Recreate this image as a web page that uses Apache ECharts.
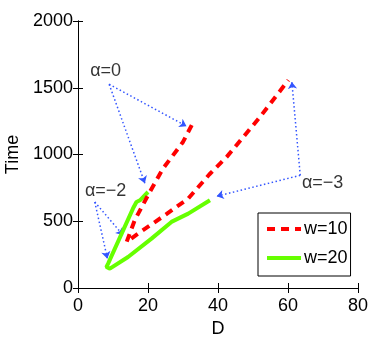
<!DOCTYPE html>
<html>
<head>
<meta charset="utf-8">
<script src="https://cdn.jsdelivr.net/npm/echarts@6/dist/echarts.min.js"></script>
<style>
  html, body { margin: 0; padding: 0; background: #fff; }
  #chart { width: 392px; height: 338px; }
</style>
</head>
<body>
<div id="chart"></div>
<script>
// series names
const seriesNames = ["w=10", "w=20"];
// w=10 (red dashed)
const w10D = [32.5, 30, 24.3, 20, 16.2, 13.9, 17.2, 24.8, 31.5, 37.5, 42.5, 52, 60.1];
const w10Time = [1220, 1094, 895, 695, 507, 345, 408, 545, 670, 850, 982, 1281, 1557];
// w=20 (green solid)
const w20D = [20, 17.7, 16.7, 15.7, 8.6, 8.1, 9.1, 14.3, 21, 26.7, 31.5, 37.7];
const w20Time = [719, 657, 644, 595, 183, 157, 145, 232, 370, 495, 557, 657];
// alpha annotations: text position and arrows
const alphaText = ["α=0", "α=−2", "α=−3"];
const alphaD = [7.9, 7.9, 69.9];
const alphaTime = [1624, 728, 788];
const arrowFromD = [8.9, 8.9, 4.8, 4.8, 63.5, 63.5];
const arrowFromTime = [1526, 1526, 644, 644, 844, 844];
const arrowToD = [31.0, 19.1, 12.9, 8.4, 39.6, 61.1];
const arrowToTime = [1212, 785, 395, 220, 687, 1544];
// axis ticks
const xMin = 0, xMax = 80, xStep = 20;
const yMin = 0, yMax = 2000, yStep = 500;

const font = "Liberation Sans";
const chart = echarts.init(document.getElementById("chart"));

const baseAxisLine = { show: true, lineStyle: { color: "#000", width: 1 } };
const baseTick = { show: true, inside: true, length: 5, lineStyle: { color: "#000" } };

const option = {
  animation: false,
  grid: { left: 78, right: 34, top: 21, bottom: 50, containLabel: false, outerBoundsMode: "none" },
  textStyle: { fontFamily: font },
  legend: {
    data: seriesNames,
    orient: "vertical",
    left: 258,
    top: 213,
    padding: [6, 3, 8, 7],
    itemWidth: 34,
    itemHeight: 14,
    itemGap: 9,
    itemStyle: { opacity: 0 },
    lineStyle: { width: 4 },
    backgroundColor: "#fff",
    borderColor: "#000",
    borderWidth: 1,
    borderRadius: 0,
    textStyle: { fontSize: 18, color: "#000", fontFamily: font, lineHeight: 20, padding: [0, 0, 0, -2] }
  },
  xAxis: [
    {
      type: "value", min: xMin, max: xMax, interval: xStep, position: "bottom",
      name: "D", nameLocation: "middle", nameGap: 20,
      nameTextStyle: { fontSize: 18, color: "#000", fontFamily: font },
      axisLine: baseAxisLine, axisTick: baseTick,
      axisLabel: { fontSize: 18, color: "#000", margin: 9, fontFamily: font, formatter: v => String(v) },
      splitLine: { show: false }
    },
    {
      type: "value", min: xMin, max: xMax, interval: xStep, position: "top",
      axisLine: baseAxisLine, axisTick: baseTick,
      axisLabel: { show: false }, splitLine: { show: false }
    }
  ],
  yAxis: [
    {
      type: "value", min: yMin, max: yMax, interval: yStep, position: "left",
      name: "Time", nameLocation: "middle", nameGap: 47,
      nameTextStyle: { fontSize: 18, color: "#000", fontFamily: font },
      axisLine: baseAxisLine, axisTick: baseTick,
      axisLabel: { fontSize: 18, color: "#000", margin: 5, fontFamily: font, formatter: v => String(v) },
      splitLine: { show: false }
    },
    {
      type: "value", min: yMin, max: yMax, interval: yStep, position: "right",
      axisLine: baseAxisLine, axisTick: baseTick,
      axisLabel: { show: false }, splitLine: { show: false }
    }
  ],
  series: [
    {
      name: "arrows",
      type: "lines",
      coordinateSystem: "cartesian2d",
      xAxisIndex: 0, yAxisIndex: 0,
      symbol: ["none", "arrow"],
      symbolSize: 7,
      lineStyle: { color: "#3355ff", width: 1.5, type: [1.5, 2.5], opacity: 1, curveness: 0 },
      data: arrowFromD.map((d, i) => ({
        coords: [[d, arrowFromTime[i]], [arrowToD[i], arrowToTime[i]]]
      })),
      z: 1
    },
    {
      name: seriesNames[0],
      type: "line",
      symbol: "none",
      color: "#ff0000",
      lineStyle: { color: "#ff0000", width: 4, type: [8, 6] },
      data: w10D.map((d, i) => [d, w10Time[i]]),
      z: 3
    },
    {
      name: seriesNames[1],
      type: "line",
      symbol: "none",
      color: "#66ff00",
      lineStyle: { color: "#66ff00", width: 4 },
      data: w20D.map((d, i) => [d, w20Time[i]]),
      z: 2
    },
    {
      name: "alpha",
      type: "scatter",
      symbolSize: 0,
      silent: true,
      label: {
        show: true, position: "inside",
        fontSize: 18, color: "#000", fontFamily: font,
        formatter: p => alphaText[p.dataIndex]
      },
      data: alphaD.map((d, i) => [d, alphaTime[i]]),
      z: 4
    }
  ]
};

chart.setOption(option);
</script>
</body>
</html>
